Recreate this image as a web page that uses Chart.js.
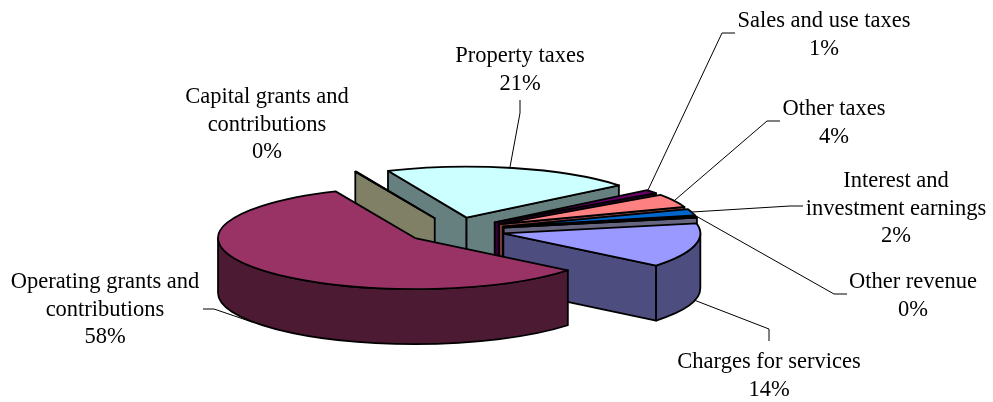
<!DOCTYPE html>
<html lang="en">
<head>
  <meta charset="UTF-8">
  <title>Revenue by source</title>
  <script src="https://cdn.jsdelivr.net/npm/chart.js"></script>
  <style>
    body {
      margin: 0;
      background-color: #ffffff;
    }
    canvas {
      display: block;
    }
  </style>
</head>
<body>

  <canvas id="revenueChart" width="993" height="402"></canvas>

  <script>
    const categories = [
      'Property taxes',
      'Sales and use taxes',
      'Other taxes',
      'Interest and investment earnings',
      'Other revenue',
      'Charges for services',
      'Operating grants and contributions',
      'Capital grants and contributions'
    ];
    const shares = [20.6, 1.2, 4.2, 2.0, 0.4, 14.0, 57.52, 0.08];

    const topColors = ['#ccffff', '#660066', '#ff8080', '#0066cc', '#ccccff', '#9999ff', '#993366', '#ffffcc'];
    const wallColors = ['#668080', '#330033', '#804040', '#003366', '#666680', '#4d4d80', '#4d1a33', '#808066'];

    // how each label wraps, with the centre and first baseline of the text block
    const labelLines = [
      ['Property taxes'],
      ['Sales and use taxes'],
      ['Other taxes'],
      ['Interest and', 'investment earnings'],
      ['Other revenue'],
      ['Charges for services'],
      ['Operating grants and', 'contributions'],
      ['Capital grants and', 'contributions']
    ];
    const labelX = [520, 824, 834, 896, 913, 769, 105, 267];
    const labelY = [62, 27, 115, 187, 288, 368, 288, 103];
    const lineHeight = 27.6;

    // leader lines, from the label towards its slice
    const leaders = [
      [[520, 100], [520, 113], [510, 167]],
      [[735, 33], [722, 33], [648, 190]],
      [[780, 121], [767, 121], [675, 200]],
      [[803, 206], [790, 206], [692, 212]],
      [[847, 294], [834, 294], [696, 216]],
      [[769, 341], [769, 329], [694, 300]],
      [[203, 309], [214, 309], [252, 322]]
    ];

    const pieX = 454.8;
    const pieY = 230.2;
    const radius = 197;
    const squash = 0.259;
    const depth = 55;
    const explode = 50;

    // where a slice sits on screen once pulled away from the centre
    function sliceOrigin(arc) {
      const mid = (arc.startAngle + arc.endAngle) / 2;
      return {
        x: pieX + Math.cos(mid) * explode,
        y: pieY + Math.sin(mid) * explode * squash
      };
    }

    function edgePoint(o, angle) {
      return {
        x: o.x + Math.cos(angle) * radius,
        y: o.y + Math.sin(angle) * radius * squash
      };
    }

    function fillAndStroke(ctx, color) {
      ctx.fillStyle = color;
      ctx.fill();
      ctx.stroke();
    }

    function drawCutWall(ctx, o, angle, color) {
      const p = edgePoint(o, angle);
      ctx.beginPath();
      ctx.moveTo(o.x, o.y);
      ctx.lineTo(p.x, p.y);
      ctx.lineTo(p.x, p.y + depth);
      ctx.lineTo(o.x, o.y + depth);
      ctx.closePath();
      fillAndStroke(ctx, color);
    }

    function drawOuterWall(ctx, o, from, to, color) {
      const a = Math.max(from, 0);
      const b = Math.min(to, Math.PI);
      if (b <= a) return;
      ctx.beginPath();
      ctx.ellipse(o.x, o.y, radius, radius * squash, 0, a, b);
      ctx.ellipse(o.x, o.y + depth, radius, radius * squash, 0, b, a, true);
      ctx.closePath();
      fillAndStroke(ctx, color);
    }

    const extrudedPie = {
      id: 'extrudedPie',
      beforeDatasetsDraw(chart) {
        const ctx = chart.ctx;
        const arcs = chart.getDatasetMeta(0).data.map((arc, i) => ({ arc, i, o: sliceOrigin(arc) }));
        // back slices first so the nearer ones cover them
        arcs.sort((p, q) => p.o.y - q.o.y);

        ctx.save();
        ctx.strokeStyle = '#000000';
        ctx.lineWidth = 1.8;
        ctx.lineJoin = 'round';

        arcs.forEach(({ arc, i, o }) => {
          const color = wallColors[i];
          if (Math.cos(arc.startAngle) < 0) drawCutWall(ctx, o, arc.startAngle, color);
          if (Math.cos(arc.endAngle) > 0) drawCutWall(ctx, o, arc.endAngle, color);
          drawOuterWall(ctx, o, arc.startAngle, arc.endAngle, color);

          // top face is the library's own arc, flattened into an ellipse
          ctx.save();
          ctx.translate(o.x, o.y);
          ctx.scale(1, squash);
          ctx.translate(-arc.x, -arc.y);
          arc.draw(ctx);
          ctx.restore();

          ctx.beginPath();
          ctx.moveTo(o.x, o.y);
          ctx.ellipse(o.x, o.y, radius, radius * squash, 0, arc.startAngle, arc.endAngle);
          ctx.closePath();
          ctx.stroke();
        });

        ctx.restore();
        return false;
      },
      afterDraw(chart) {
        const ctx = chart.ctx;
        const total = shares.reduce((sum, v) => sum + v, 0);

        ctx.save();
        ctx.strokeStyle = '#000000';
        ctx.lineWidth = 1;
        leaders.forEach(points => {
          ctx.beginPath();
          points.forEach(([x, y], n) => (n ? ctx.lineTo(x, y) : ctx.moveTo(x, y)));
          ctx.stroke();
        });

        ctx.fillStyle = '#000000';
        ctx.font = "22.5px 'Liberation Serif'";
        ctx.textAlign = 'center';
        ctx.textBaseline = 'alphabetic';
        labelLines.forEach((lines, i) => {
          const text = [...lines, Math.round(shares[i] / total * 100) + '%'];
          text.forEach((line, n) => ctx.fillText(line, labelX[i], labelY[i] + n * lineHeight));
        });
        ctx.restore();
      }
    };

    new Chart(document.getElementById('revenueChart'), {
      type: 'pie',
      data: {
        labels: categories,
        datasets: [{
          data: shares,
          backgroundColor: topColors,
          borderWidth: 0,
          radius: radius
        }]
      },
      options: {
        responsive: false,
        animation: false,
        events: [],
        rotation: -23.5,
        plugins: {
          legend: { display: false },
          tooltip: { enabled: false }
        }
      },
      plugins: [extrudedPie]
    });
  </script>

</body>
</html>
